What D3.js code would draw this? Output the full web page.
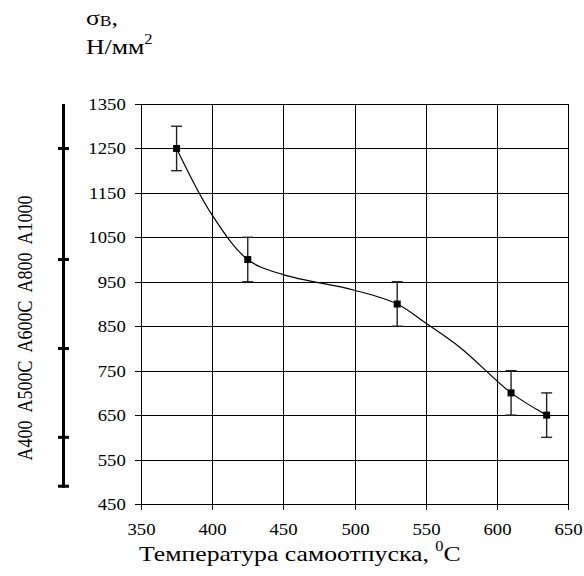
<!DOCTYPE html>
<html>
<head>
<meta charset="utf-8">
<script src="https://cdn.jsdelivr.net/npm/d3@7"></script>
<style>
  body { margin: 0; background: #fff; }
  svg { display: block; }
  text { font-family: "Liberation Serif", "Times New Roman", "DejaVu Serif", serif; fill: #000; }
</style>
</head>
<body>
<div id="chart"></div>
<script>
// measured points with error bars
const temps = [375, 425, 530, 610, 635];
const sigma = [1250, 1000, 900, 700, 650];
const sigmaErr = [50, 50, 50, 50, 50];

// smoothed trend line
const curveTemps = [375, 400, 425, 450, 500, 530, 550, 575, 610, 635];
const curveSigma = [1250, 1100, 1000, 966, 931, 900, 857, 800, 700, 650];

const tempTicks = [350, 400, 450, 500, 550, 600, 650];
const sigmaTicks = [450, 550, 650, 750, 850, 950, 1050, 1150, 1250, 1350];

// steel classes scale on the left
const classNames = ["A400", "A500C", "A600C", "A800", "A1000"];
const classBounds = [490, 600, 800, 1000, 1250];
const classTop = 1350;

const SX = 1.17; // the original is a little wider than it is tall

const width = 584, height = 576;
const plot = {left: 141, right: 568, top: 104, bottom: 504};

const svg = d3.select("#chart").append("svg")
    .attr("width", width)
    .attr("height", height);

const x = d3.scaleLinear().domain([350, 650]).range([plot.left, plot.right]);
const y = d3.scaleLinear().domain([450, 1350]).range([plot.bottom, plot.top]);

function stretch(sel, px, py) {
    sel.attr("transform", `translate(${px},${py}) scale(${SX},1)`);
}

// grid
const grid = svg.append("g").attr("shape-rendering", "crispEdges");
grid.selectAll("line.v")
    .data(tempTicks)
    .enter().append("line")
    .attr("class", "v")
    .attr("x1", d => Math.round(x(d)) + 0.5).attr("x2", d => Math.round(x(d)) + 0.5)
    .attr("y1", plot.top).attr("y2", plot.bottom)
    .attr("stroke", "#000").attr("stroke-width", 1);
grid.selectAll("line.h")
    .data(sigmaTicks)
    .enter().append("line")
    .attr("class", "h")
    .attr("x1", plot.left).attr("x2", plot.right)
    .attr("y1", d => Math.round(y(d)) + 0.5).attr("y2", d => Math.round(y(d)) + 0.5)
    .attr("stroke", "#000").attr("stroke-width", 1);

// axes
const xAxis = svg.append("g")
    .attr("transform", `translate(0,${plot.bottom})`)
    .call(d3.axisBottom(x).tickValues(tempTicks).tickFormat(d3.format("d"))
        .tickSize(6).tickSizeOuter(0).tickPadding(14));
const yAxis = svg.append("g")
    .attr("transform", `translate(${plot.left},0)`)
    .call(d3.axisLeft(y).tickValues(sigmaTicks).tickFormat(d3.format("d"))
        .tickSize(6).tickSizeOuter(0).tickPadding(7));

[xAxis, yAxis].forEach(function (ax) {
    ax.attr("font-family", null);
    ax.select(".domain").remove();
    ax.selectAll("line").attr("stroke", "#000").attr("shape-rendering", "crispEdges");
    ax.selectAll("text")
        .attr("font-size", 16)
        .attr("transform", `scale(${SX},1)`);
});
yAxis.selectAll(".tick").attr("transform", d => `translate(0,${Math.round(y(d)) + 0.5})`);
xAxis.selectAll(".tick").attr("transform", d => `translate(${Math.round(x(d)) + 0.5},0)`);

// trend line
const line = d3.line()
    .x(d => x(d[0]))
    .y(d => y(d[1]))
    .curve(d3.curveCatmullRom.alpha(0.5));
svg.append("path")
    .datum(d3.zip(curveTemps, curveSigma))
    .attr("d", line)
    .attr("fill", "none")
    .attr("stroke", "#000")
    .attr("stroke-width", 1.2);

// error bars
const pts = temps.map((t, i) => ({t: t, s: sigma[i], e: sigmaErr[i]}));
const err = svg.append("g").attr("stroke", "#222").attr("stroke-width", 1.4);
err.selectAll("line.bar")
    .data(pts).enter().append("line")
    .attr("x1", d => x(d.t)).attr("x2", d => x(d.t))
    .attr("y1", d => y(d.s - d.e)).attr("y2", d => y(d.s + d.e));
err.selectAll("line.lo")
    .data(pts).enter().append("line")
    .attr("x1", d => x(d.t) - 5.5).attr("x2", d => x(d.t) + 5.5)
    .attr("y1", d => y(d.s - d.e)).attr("y2", d => y(d.s - d.e));
err.selectAll("line.hi")
    .data(pts).enter().append("line")
    .attr("x1", d => x(d.t) - 5.5).attr("x2", d => x(d.t) + 5.5)
    .attr("y1", d => y(d.s + d.e)).attr("y2", d => y(d.s + d.e));

// markers
svg.selectAll("rect.marker")
    .data(pts).enter().append("rect")
    .attr("class", "marker")
    .attr("x", d => x(d.t) - 3.5).attr("y", d => y(d.s) - 3.5)
    .attr("width", 7).attr("height", 7)
    .attr("fill", "#000");

// class scale bar on the left
const barX = 63.5;
const cls = svg.append("g").attr("stroke", "#000");
cls.append("line")
    .attr("x1", barX).attr("x2", barX)
    .attr("y1", y(classTop)).attr("y2", y(classBounds[0]) + 1.5)
    .attr("stroke-width", 3);
cls.selectAll("line.cap")
    .data(classBounds).enter().append("line")
    .attr("class", "cap")
    .attr("x1", barX - 5.5).attr("x2", barX + 5.5)
    .attr("y1", d => y(d)).attr("y2", d => y(d))
    .attr("stroke-width", 3);

svg.append("text")
    .attr("transform", `translate(32,328) scale(${SX},1) rotate(-90)`)
    .attr("text-anchor", "middle")
    .attr("font-size", 18)
    .style("white-space", "pre")
    .text(classNames.join("  "));

// y title
const t1 = svg.append("text").attr("font-size", 22).call(stretch, 86, 25);
t1.append("tspan").text("σ");
t1.append("tspan").attr("font-size", 15).attr("dy", 1).text("B");
t1.append("tspan").attr("dy", -1).text(",");
const t2 = svg.append("text").attr("font-size", 22).call(stretch, 86, 54);
t2.append("tspan").text("Н/мм");
t2.append("tspan").attr("font-size", 14).attr("dy", -10).text("2");

// x title
const t3 = svg.append("text").attr("font-size", 22).call(stretch, 139, 561);
t3.append("tspan").text("Температура самоотпуска, ");
t3.append("tspan").attr("font-size", 14).attr("dy", -10).text("0");
t3.append("tspan").attr("dy", 10).text("C");
</script>
</body>
</html>
